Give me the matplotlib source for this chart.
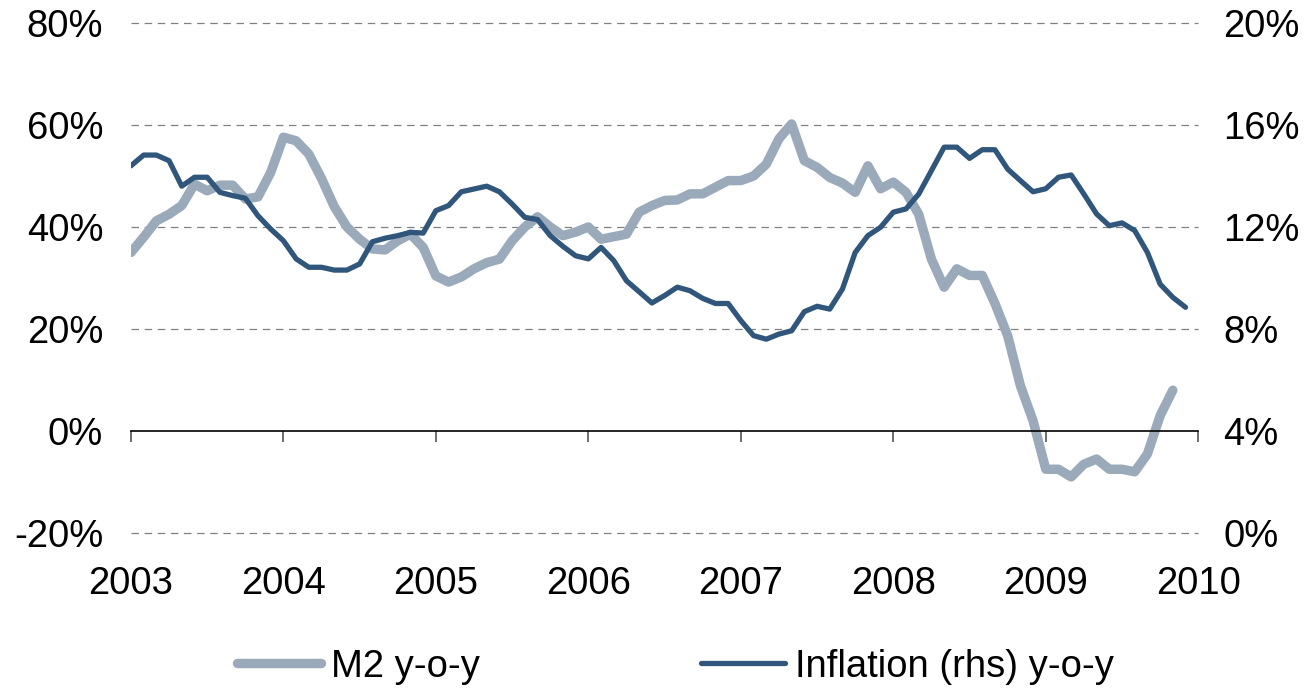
import numpy as np
import matplotlib
matplotlib.use("Agg")
from matplotlib import pyplot as plt

plt.rcParams['font.family'] = ['Liberation Sans', 'DejaVu Sans']

# monthly data, Jan 2003 onwards
m2_yoy = [35, 38, 41.2, 42.5, 44.2, 48.4, 47.1, 48.2, 48.2, 45.5, 45.9, 50.7,
          57.6, 56.9, 54.3, 49.5, 44, 40, 37.6, 35.7, 35.5, 37.3, 38.6, 36,
          30.4, 29.2, 30.2, 31.8, 33, 33.7, 37.3, 40, 42, 40, 38.3, 39,
          40, 37.6, 38.1, 38.6, 42.9, 44.2, 45.2, 45.3, 46.5, 46.5, 47.8, 49.1,
          49.1, 50, 52.3, 57.3, 60.2, 53, 51.7, 49.7, 48.6, 46.8, 52, 47.5,
          48.8, 46.8, 42.5, 33.7, 28.2, 31.8, 30.5, 30.5, 25, 18.7, 8.9, 2,
          -7.5, -7.5, -9, -6.5, -5.5, -7.5, -7.5, -8, -4.5, 3, 8]
inflation_yoy = [14.4, 14.82, 14.82, 14.6, 13.6, 13.95, 13.95, 13.36, 13.23, 13.13, 12.44, 11.92,
                 11.46, 10.75, 10.42, 10.42, 10.31, 10.31, 10.55, 11.42, 11.56, 11.66, 11.79, 11.76,
                 12.64, 12.84, 13.38, 13.49, 13.6, 13.38, 12.9, 12.38, 12.29, 11.66, 11.24, 10.87,
                 10.75, 11.2, 10.68, 9.89, 9.46, 9.02, 9.31, 9.64, 9.5, 9.2, 9.0, 9.0,
                 8.33, 7.74, 7.6, 7.8, 7.93, 8.68, 8.89, 8.78, 9.57, 11.0, 11.66, 11.99,
                 12.58, 12.71, 13.29, 14.21, 15.13, 15.13, 14.69, 15.03, 15.03, 14.27, 13.82, 13.38,
                 13.5, 13.95, 14.04, 13.29, 12.51, 12.05, 12.16, 11.86, 11.0, 9.76, 9.24, 8.85]
years = list(range(2003, 2011))
left_ticks = [-20, 0, 20, 40, 60, 80]
right_ticks = [0, 4, 8, 12, 16, 20]

m2_x = 2003 + np.arange(len(m2_yoy)) / 12
infl_x = 2003 + np.arange(len(inflation_yoy)) / 12

gray = '#9aaabb'
navy = '#30577b'
fs = 27.5

fig = plt.figure(figsize=(13.12, 6.88), dpi=100)
ax = fig.add_axes([0.0998, 0.2253, 0.8135, 0.7413])
ax2 = ax.twinx()

ax.plot(m2_x, m2_yoy, color=gray, lw=6.8, solid_capstyle='round', solid_joinstyle='round',
        label='M2 y-o-y')
ax2.plot(infl_x, inflation_yoy, color=navy, lw=3.8, solid_capstyle='round', solid_joinstyle='round',
         label='Inflation (rhs) y-o-y')

ax.set_xlim(2003, 2010)
ax.set_ylim(-20, 80)
ax2.set_ylim(0, 20)

# dashed gridlines
for v in left_ticks:
    if v != 0:
        ax.axhline(v, color='#808080', lw=0.9, ls=(0, (6, 4.5)), zorder=0.5, clip_on=False)

for s in ['top', 'right', 'left']:
    ax.spines[s].set_visible(False)
for s in ax2.spines:
    ax2.spines[s].set_visible(False)
ax.spines['bottom'].set_position(('data', 0))
ax.spines['bottom'].set_linewidth(1.2)

ax.set_xticks(years)
ax.tick_params(axis='x', direction='out', length=8, width=1.2, color='#555555', labelbottom=False)

sec = ax.secondary_xaxis('bottom')
sec.set_xticks(years)
sec.set_xticklabels([str(y) for y in years])
sec.tick_params(length=0, pad=24, labelsize=fs)
sec.spines['bottom'].set_visible(False)

ax.set_yticks(left_ticks)
ax.set_yticklabels([f'{v}%' for v in left_ticks])
ax.tick_params(axis='y', length=0, pad=20, labelsize=fs)
ax2.set_yticks(right_ticks)
ax2.set_yticklabels([f'{v}%' for v in right_ticks])
ax2.tick_params(axis='y', length=0, pad=18, labelsize=fs)

h1, l1 = ax.get_legend_handles_labels()
h2, l2 = ax2.get_legend_handles_labels()
fig.legend(h1 + h2, l1 + l2, loc='center', bbox_to_anchor=(0.515, 0.031), ncol=2,
           frameon=False, fontsize=fs, handlelength=2.2, handletextpad=0.25, columnspacing=5.8,
           borderaxespad=0)

fig.savefig('out.png', dpi=100)
